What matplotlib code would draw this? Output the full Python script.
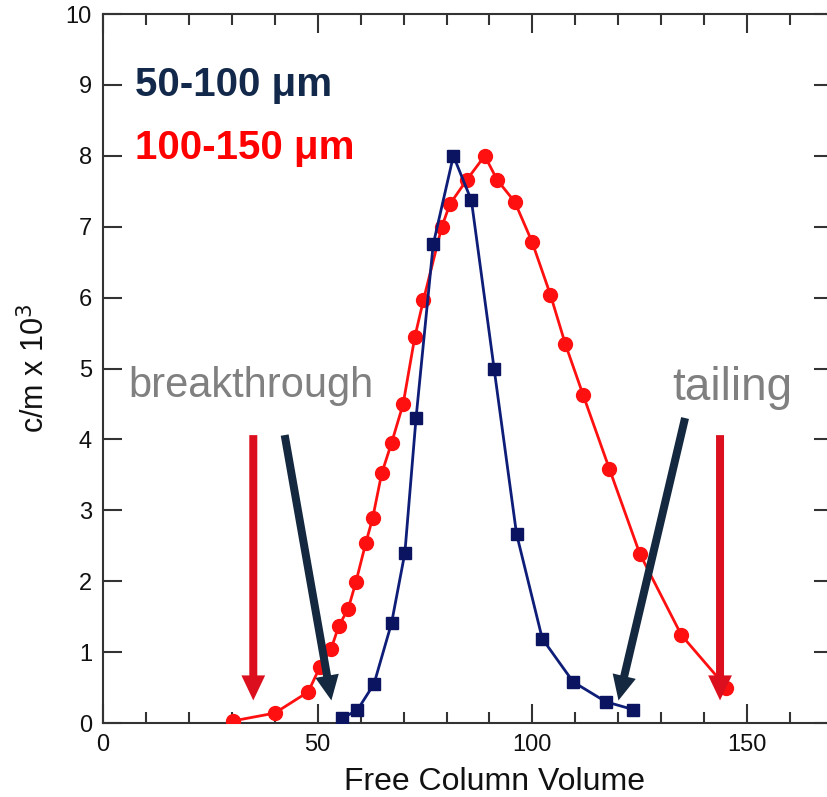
import matplotlib
matplotlib.use("Agg")
import matplotlib.pyplot as plt
from matplotlib.patches import FancyArrowPatch
from matplotlib.ticker import MultipleLocator

plt.rcParams['font.family'] = ['Liberation Sans', 'DejaVu Sans']

# 100-150 um particles (red circles)
red_x = [30.3, 40.0, 47.8, 50.5, 53.1, 54.9, 57.1, 58.9, 61.2, 62.8, 64.9, 67.2,
         69.9, 72.6, 74.6, 78.9, 80.8, 84.7, 88.9, 91.8, 95.9, 99.9, 104.2,
         107.7, 111.8, 117.9, 125.0, 134.7, 145.2]
red_y = [0.03, 0.14, 0.44, 0.79, 1.04, 1.37, 1.61, 1.99, 2.54, 2.89, 3.52, 3.95,
         4.50, 5.44, 5.96, 7.00, 7.32, 7.66, 8.00, 7.66, 7.35, 6.79, 6.04,
         5.34, 4.63, 3.59, 2.39, 1.24, 0.50]

# 50-100 um particles (blue squares)
blue_x = [55.7, 59.2, 63.1, 67.2, 70.3, 72.9, 76.9, 81.6, 85.8, 91.1, 96.3,
          102.3, 109.5, 117.1, 123.5]
blue_y = [0.07, 0.18, 0.55, 1.41, 2.40, 4.30, 6.75, 8.00, 7.37, 4.99, 2.67,
          1.19, 0.58, 0.30, 0.19]

# arrows: (x_start, y_start, x_end, y_end, colour)
arrows = [
    (35.0, 4.10, 35.0, 0.28, '#dc0f1e'),
    (42.2, 4.10, 53.3, 0.28, '#14283f'),
    (135.7, 4.34, 119.9, 0.28, '#14283f'),
    (143.7, 4.10, 143.7, 0.28, '#dc0f1e'),
]

fig = plt.figure(figsize=(8.28, 7.97), dpi=100)
ax = fig.add_axes([0.1244, 0.0928, 0.8816, 0.8896])

ax.plot(red_x, red_y, color='#ff1010', lw=2.0, marker='o', ms=10,
        mfc='#ff1010', mec='#ff1010', zorder=3)
ax.plot(blue_x, blue_y, color='#0d1d78', lw=2.0, marker='s', ms=9,
        mfc='#0a1460', mec='#0a1460', zorder=4)

for x0, y0, x1, y1, c in arrows:
    arr = FancyArrowPatch((x0, y0), (x1, y1),
                          arrowstyle='simple,head_length=1.0,head_width=0.95,tail_width=0.32',
                          mutation_scale=18, color=c, lw=0, zorder=6)
    ax.add_patch(arr)

ax.set_xlim(0, 170)
ax.set_ylim(0, 10)
ax.xaxis.set_major_locator(MultipleLocator(50))
ax.xaxis.set_minor_locator(MultipleLocator(10))
ax.yaxis.set_major_locator(MultipleLocator(1))

ax.tick_params(which='both', direction='in', top=True, right=True,
               color='#333333', width=1.5)
ax.tick_params(which='major', length=14, labelsize=17, pad=8, labelcolor='#111111')
ax.tick_params(which='minor', length=8)
for s in ax.spines.values():
    s.set_linewidth(1.5)
    s.set_color('#333333')

ax.set_xlabel('Free Column Volume', fontsize=23, color='#111111')
ax.xaxis.set_label_coords(0.536, -0.062)
ax.set_ylabel(r'c/m x 10$^3$', fontsize=22, color='#111111', labelpad=10)

ax.text(7.5, 8.85, '50-100 μm', fontsize=29, fontweight='bold', color='#13294b')
ax.text(7.5, 7.95, '100-150 μm', fontsize=29, fontweight='bold', color='#ff0000')
ax.text(5.8, 4.6, 'breakthrough', fontsize=30, color='#808080')
ax.text(132.5, 4.55, 'tailing', fontsize=33, color='#808080')

fig.savefig('out.png', dpi=100)
